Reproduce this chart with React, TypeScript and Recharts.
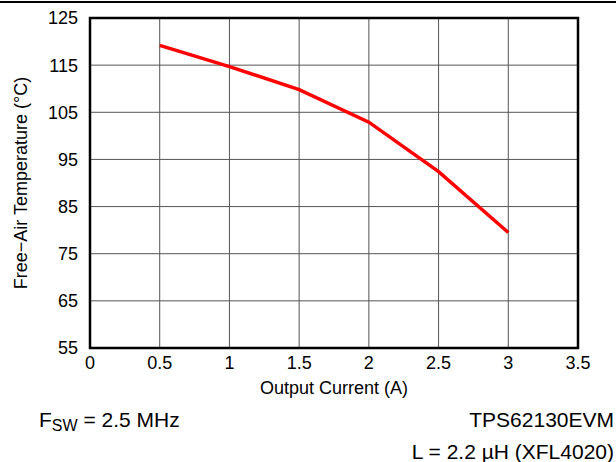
import React from "react";
import {
  LineChart,
  Line,
  XAxis,
  YAxis,
  CartesianGrid,
  ReferenceArea,
} from "recharts";

// output current (A) vs max free-air temperature (°C)
const currents = [0.5, 1, 1.5, 2, 2.5, 3];
const temps = [119.2, 114.7, 109.8, 102.9, 92.4, 79.5];
const xTicks = [0, 0.5, 1, 1.5, 2, 2.5, 3, 3.5];
const yTicks = [55, 65, 75, 85, 95, 105, 115, 125];

const data = currents.map((c, i) => ({ current: c, temp: temps[i] }));

const font = "'Liberation Sans', Arial, sans-serif";

const App: React.FC = () => (
  <div
    style={{
      position: "absolute",
      left: 0,
      top: 0,
      width: 616,
      height: 462,
      background: "#fff",
      fontFamily: font,
    }}
  >
    <div
      style={{
        position: "absolute",
        left: 0,
        top: 1,
        width: 616,
        height: 2,
        background: "#000",
      }}
    />
    <LineChart
      width={616}
      height={462}
      data={data}
      margin={{ top: 18, right: 38, bottom: 64, left: 0 }}
    >
      <CartesianGrid stroke="#555" strokeWidth={1} />
      <XAxis
        type="number"
        dataKey="current"
        domain={[0, 3.5]}
        ticks={xTicks}
        tickLine={false}
        axisLine={false}
        height={50}
        tick={{ fill: "#000", fontSize: 18, fontFamily: font }}
        tickMargin={2}
        label={{
          value: "Output Current (A)",
          position: "insideBottom",
          offset: 4,
          fill: "#000",
          fontSize: 18,
          fontFamily: font,
        }}
      />
      <YAxis
        type="number"
        domain={[55, 125]}
        ticks={yTicks}
        tickLine={false}
        axisLine={false}
        width={90}
        tickMargin={6}
        tick={{ fill: "#000", fontSize: 18, fontFamily: font }}
        label={{
          value: "Free\u2212Air Temperature (\u00b0C)",
          angle: -90,
          position: "insideLeft",
          offset: 21,
          style: { textAnchor: "middle" },
          fill: "#000",
          fontSize: 18,
          fontFamily: font,
        }}
      />
      <ReferenceArea
        x1={0}
        x2={3.5}
        y1={55}
        y2={125}
        fill="none"
        fillOpacity={0}
        stroke="#000"
        strokeWidth={2.5}
        ifOverflow="visible"
      />
      <Line
        type="linear"
        dataKey="temp"
        stroke="#ff0000"
        strokeWidth={3.5}
        dot={false}
        isAnimationActive={false}
      />
    </LineChart>
    <div
      style={{
        position: "absolute",
        left: 39,
        top: 408,
        fontSize: 21,
        lineHeight: "24px",
        color: "#000",
        whiteSpace: "nowrap",
      }}
    >
      F<sub style={{ fontSize: 16, verticalAlign: "-4px" }}>SW</sub> = 2.5 MHz
    </div>
    <div
      style={{
        position: "absolute",
        right: 2,
        top: 408,
        fontSize: 21,
        lineHeight: "24px",
        color: "#000",
        textAlign: "right",
        whiteSpace: "nowrap",
      }}
    >
      TPS62130EVM
      <br />
      <span style={{ display: "inline-block", marginTop: 8 }}>
        L = 2.2 {"\u00b5"}H (XFL4020)
      </span>
    </div>
  </div>
);

export default App;
